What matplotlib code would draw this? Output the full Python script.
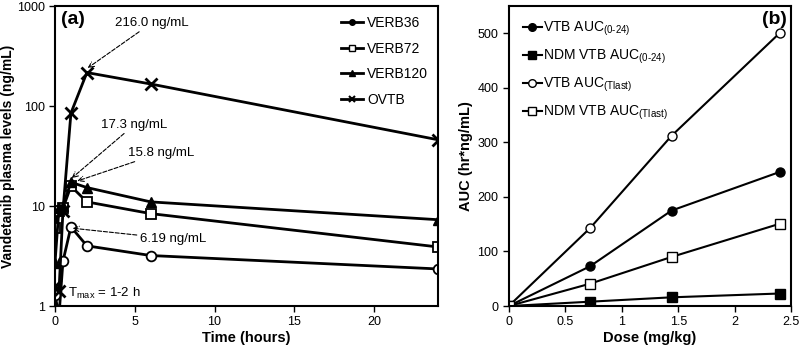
import numpy as np
import matplotlib
matplotlib.use('Agg')
from matplotlib import pyplot as plt
from matplotlib.lines import Line2D

plt.rcParams['font.family'] = ['Liberation Sans', 'DejaVu Sans']
plt.rcParams['mathtext.default'] = 'regular'

# panel (a) - plasma levels vs time
time_h = [0, 0.25, 0.5, 1, 2, 6, 24]
verb36 = [1.3, 0.8, 2.8, 6.19, 4.0, 3.2, 2.35]
verb72 = [6.0, 9.0, 9.5, 15.8, 11.0, 8.4, 3.9]
verb120 = [2.7, 9.5, 10.0, 17.3, 15.3, 11.0, 7.3]
ovtb = [1.6, 1.4, 9.0, 85.0, 216.0, 166.0, 46.0]

# panel (b) - AUC vs dose
dose = [0, 0.72, 1.44, 2.4]
vtb_auc024 = [0, 73, 175, 246]
ndm_auc024 = [0, 8, 16, 23]
vtb_auctlast = [0, 143, 312, 501]
ndm_auctlast = [0, 41, 90, 151]

fig = plt.figure(figsize=(8.05, 3.53), dpi=100)
ax1 = fig.add_axes([0.0683, 0.133, 0.4757, 0.850])
ax2 = fig.add_axes([0.632, 0.133, 0.351, 0.850])

lw = 2.0
ax1.plot(time_h, verb36, color='black', lw=lw, marker='o', ms=7, mfc='white', mew=1.3)
ax1.plot(time_h, verb72, color='black', lw=lw, marker='s', ms=7, mfc='white', mew=1.3)
ax1.plot(time_h, verb120, color='black', lw=lw, marker='^', ms=7, mfc='black')
ax1.plot(time_h, ovtb, color='black', lw=lw, marker='x', ms=9, mew=2)
ax1.set_yscale('log')
ax1.set_xlim(0, 24)
ax1.set_ylim(1, 1000)
ax1.set_xticks([0, 5, 10, 15, 20])
ax1.set_yticks([1, 10, 100, 1000])
ax1.set_yticklabels(['1', '10', '100', '1000'])
ax1.minorticks_off()
ax1.set_xlabel('Time (hours)', fontsize=10.5, fontweight='bold', labelpad=2)
ax1.set_ylabel('Vandetanib plasma levels (ng/mL)', fontsize=10, fontweight='bold', labelpad=1)

leg_handles = [
    Line2D([], [], color='black', lw=2, marker='o', ms=4, mfc='black'),
    Line2D([], [], color='black', lw=2, marker='s', ms=4, mfc='white'),
    Line2D([], [], color='black', lw=2, marker='^', ms=4, mfc='black'),
    Line2D([], [], color='black', lw=2, marker='x', ms=4, mew=1.5),
]
ax1.legend(leg_handles, ['VERB36', 'VERB72', 'VERB120', 'OVTB'], loc='upper right',
           frameon=False, fontsize=10, handlelength=1.6, handletextpad=0.3,
           labelspacing=0.85, borderaxespad=0.3)

arrow = dict(arrowstyle='->', linestyle='--', lw=0.8, color='black', shrinkA=0, shrinkB=0)
ax1.annotate('216.0 ng/mL', xy=(2.05, 240), xytext=(3.75, 676), fontsize=9.5,
             va='center', ha='left', arrowprops=arrow)
ax1.annotate('17.3 ng/mL', xy=(1.05, 19), xytext=(2.9, 65), fontsize=9.5,
             va='center', ha='left', arrowprops=arrow)
ax1.annotate('15.8 ng/mL', xy=(1.4, 17.8), xytext=(4.55, 34), fontsize=9.5,
             va='center', ha='left', arrowprops=arrow)
ax1.annotate('6.19 ng/mL', xy=(1.1, 6.0), xytext=(5.3, 4.7), fontsize=9.5,
             va='center', ha='left', arrowprops=arrow)
ax1.text(0.8, 1.35, 'T$_{max}$ = 1-2 h', fontsize=9.5, va='center', ha='left')
ax1.text(0.015, 0.985, '(a)', transform=ax1.transAxes, fontsize=14, fontweight='bold',
         va='top', ha='left')

lw2 = 1.5
ax2.plot(dose, vtb_auc024, color='black', lw=lw2, marker='o', ms=6.5, mfc='black')
ax2.plot(dose, ndm_auc024, color='black', lw=lw2, marker='s', ms=6.5, mfc='black')
ax2.plot(dose, vtb_auctlast, color='black', lw=lw2, marker='o', ms=6.5, mfc='white')
ax2.plot(dose, ndm_auctlast, color='black', lw=lw2, marker='s', ms=6.5, mfc='white')
ax2.set_xlim(0, 2.5)
ax2.set_ylim(0, 550)
ax2.set_xticks([0, 0.5, 1, 1.5, 2, 2.5])
ax2.set_xticklabels(['0', '0.5', '1', '1.5', '2', '2.5'])
ax2.set_yticks([0, 100, 200, 300, 400, 500])
ax2.set_xlabel('Dose (mg/kg)', fontsize=10.5, fontweight='bold', labelpad=2)
ax2.set_ylabel('AUC (hr*ng/mL)', fontsize=10.5, fontweight='bold', labelpad=3)

leg2_handles = [
    Line2D([], [], color='black', lw=1.5, marker='o', ms=5.5, mfc='black'),
    Line2D([], [], color='black', lw=1.5, marker='s', ms=5.5, mfc='black'),
    Line2D([], [], color='black', lw=1.5, marker='o', ms=5.5, mfc='white'),
    Line2D([], [], color='black', lw=1.5, marker='s', ms=5.5, mfc='white'),
]
ax2.legend(leg2_handles, ['VTB AUC$_{(0\u201024)}$', 'NDM VTB AUC$_{(0\u201024)}$',
                          'VTB AUC$_{(Tlast)}$', 'NDM VTB AUC$_{(Tlast)}$'],
           loc='upper left', frameon=False, fontsize=10, handlelength=1.4,
           handletextpad=0.1, labelspacing=0.7, borderaxespad=0.6)
ax2.text(0.985, 0.985, '(b)', transform=ax2.transAxes, fontsize=14, fontweight='bold',
         va='top', ha='right')

for ax in (ax1, ax2):
    ax.tick_params(direction='out', labelsize=9, width=1, length=4)
    for s in ax.spines.values():
        s.set_linewidth(1.5)

fig.savefig('out.png', dpi=100)
